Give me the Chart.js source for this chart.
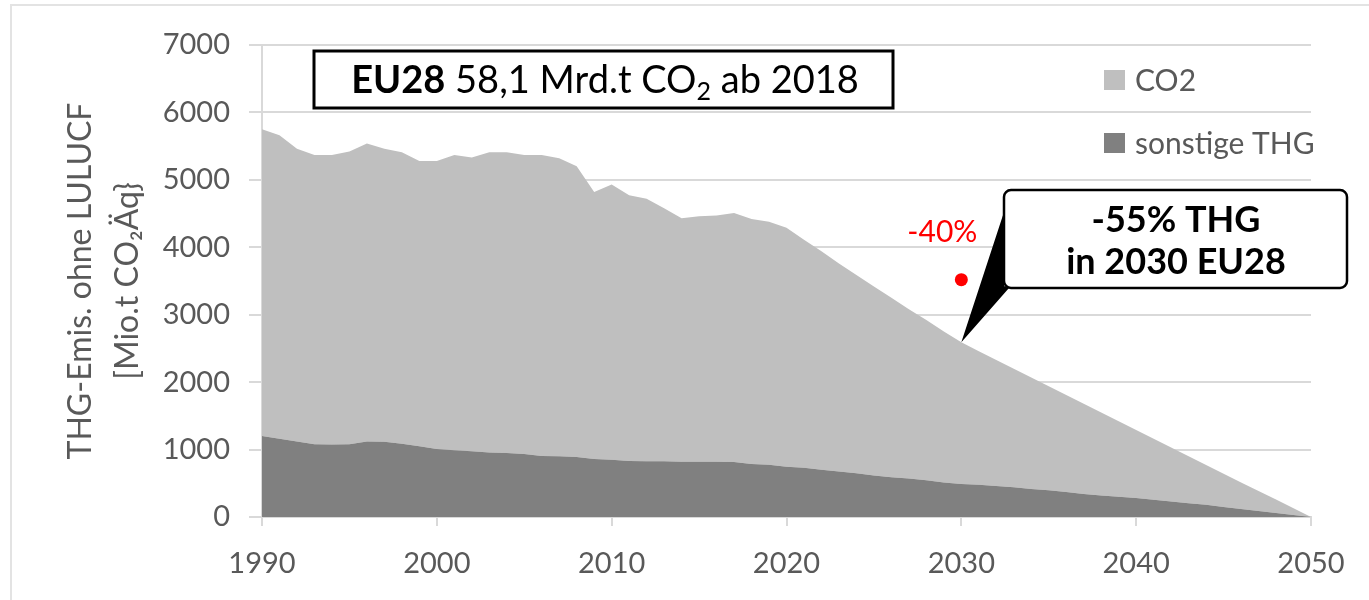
<!DOCTYPE html>
<html>
<head>
<meta charset="utf-8">
<script src="https://cdn.jsdelivr.net/npm/chart.js@4/dist/chart.umd.min.js"></script>
<style>
  html, body { margin: 0; padding: 0; background: #fff; overflow: hidden; }
  #wrap { position: relative; width: 1369px; height: 600px; }
  #frame { position: absolute; left: 10px; top: 4px; width: 2000px; height: 2000px; border: 2px solid #e3e3e3; }
  canvas { position: absolute; left: 0; top: 0; }
</style>
</head>
<body>
<div id="wrap">
  <div id="frame"></div>
  <canvas id="thgChart" width="1369" height="600"></canvas>
</div>
<script>
// Jahre 1990 .. 2050
const years = [
  1990, 1991, 1992, 1993, 1994, 1995, 1996, 1997, 1998, 1999,
  2000, 2001, 2002, 2003, 2004, 2005, 2006, 2007, 2008, 2009,
  2010, 2011, 2012, 2013, 2014, 2015, 2016, 2017, 2018, 2019,
  2020, 2021, 2022, 2023, 2024, 2025, 2026, 2027, 2028, 2029,
  2030, 2031, 2032, 2033, 2034, 2035, 2036, 2037, 2038, 2039,
  2040, 2041, 2042, 2043, 2044, 2045, 2046, 2047, 2048, 2049,
  2050
];

// sonstige THG (unten), Mio.t CO2Äq
const sonstigeTHG = [
  1200, 1160, 1120, 1080, 1075, 1080, 1120, 1115, 1085, 1050,
  1010, 990, 975, 955, 950, 935, 905, 900, 890, 860,
  850, 830, 825, 825, 820, 820, 820, 815, 785, 775,
  745, 730, 700, 675, 650, 615, 590, 570, 545, 510,
  490, 480, 460, 440, 415, 395, 370, 340, 320, 300,
  280, 255, 230, 205, 180, 150, 120, 90, 60, 30,
  0
];

// CO2 (gestapelt oben drauf)
const co2 = [
  4550, 4500, 4340, 4290, 4295, 4340, 4420, 4345, 4325, 4230,
  4270, 4380, 4355, 4455, 4460, 4435, 4465, 4420, 4310, 3960,
  4080, 3940, 3895, 3755, 3610, 3640, 3650, 3695, 3635, 3605,
  3545, 3380, 3240, 3085, 2940, 2805, 2660, 2510, 2375, 2240,
  2100, 1980, 1870, 1760, 1655, 1545, 1440, 1340, 1230, 1120,
  1010, 905, 800, 695, 590, 490, 390, 295, 200, 100,
  0
];

// -40% Ziel als Punkt
const zielJahr = [2030];
const zielWert = [3520];
const zielText = '-40%';

const titelFett = 'EU28';
const titelText = ' 58,1 Mrd.t CO';
const titelRest = ' ab 2018';
const calloutZeilen = ['-55% THG', 'in 2030 EU28'];
const calloutJahr = 2030;

const yTicks = [0, 1000, 2000, 3000, 4000, 5000, 6000, 7000];
const xTicks = [1990, 2000, 2010, 2020, 2030, 2040, 2050];

const FONT = 'Lato, "Open Sans", sans-serif';
const GRAU = '#595959';

const extras = {
  id: 'extras',
  afterDraw(chart) {
    const ctx = chart.ctx;
    const x = chart.scales.x, y = chart.scales.y;
    ctx.save();

    // Titelbox
    ctx.fillStyle = '#fff';
    ctx.fillRect(314, 51, 579, 57);
    ctx.lineWidth = 3;
    ctx.strokeStyle = '#000';
    ctx.strokeRect(314, 51, 579, 57);
    ctx.fillStyle = '#000';
    ctx.textBaseline = 'alphabetic';
    ctx.font = 'bold 38px ' + FONT;
    const w1 = ctx.measureText(titelFett).width;
    ctx.font = '38px ' + FONT;
    const w2 = ctx.measureText(titelText).width;
    const w4 = ctx.measureText(titelRest).width;
    ctx.font = '25px ' + FONT;
    const w3 = ctx.measureText('2').width;
    let tx = 605 - (w1 + w2 + w3 + w4) / 2;
    const base = 93;
    ctx.font = 'bold 38px ' + FONT;
    ctx.fillText(titelFett, tx, base); tx += w1;
    ctx.font = '38px ' + FONT;
    ctx.fillText(titelText, tx, base); tx += w2;
    ctx.font = '25px ' + FONT;
    ctx.fillText('2', tx, base + 7); tx += w3;
    ctx.font = '38px ' + FONT;
    ctx.fillText(titelRest, tx, base);

    // Legende
    const leg = [
      { label: chart.data.datasets[1].label, color: chart.data.datasets[1].backgroundColor, cy: 80 },
      { label: chart.data.datasets[0].label, color: chart.data.datasets[0].backgroundColor, cy: 143 }
    ];
    ctx.font = '30px ' + FONT;
    ctx.textBaseline = 'middle';
    leg.forEach(l => {
      ctx.fillStyle = l.color;
      ctx.fillRect(1104, l.cy - 10, 21, 20);
      ctx.fillStyle = GRAU;
      ctx.fillText(l.label, 1135, l.cy + 1);
    });

    // -40% Beschriftung
    const px = x.getPixelForValue(zielJahr[0]);
    const py = y.getPixelForValue(zielWert[0]);
    ctx.fillStyle = '#ff0000';
    ctx.textAlign = 'center';
    ctx.font = '30px ' + FONT;
    ctx.fillText(zielText, px - 19, py - 47);

    // Callout mit Zeiger auf 2030
    const i = years.indexOf(calloutJahr);
    const tipX = x.getPixelForValue(calloutJahr);
    const tipY = y.getPixelForValue(sonstigeTHG[i] + co2[i]);
    const bx = 1004, by = 190, bw = 343, bh = 98, r = 7;
    ctx.beginPath();
    ctx.moveTo(bx + r, by);
    ctx.lineTo(bx + bw - r, by);
    ctx.arcTo(bx + bw, by, bx + bw, by + r, r);
    ctx.lineTo(bx + bw, by + bh - r);
    ctx.arcTo(bx + bw, by + bh, bx + bw - r, by + bh, r);
    ctx.lineTo(bx + r, by + bh);
    ctx.arcTo(bx, by + bh, bx, by + bh - r, r);
    ctx.lineTo(bx, by + r);
    ctx.arcTo(bx, by, bx + r, by, r);
    ctx.closePath();
    ctx.fillStyle = '#fff';
    ctx.fill();
    ctx.lineWidth = 2.5;
    ctx.strokeStyle = '#000';
    ctx.stroke();
    ctx.beginPath();
    ctx.moveTo(bx, by + 22);
    ctx.lineTo(tipX, tipY);
    ctx.lineTo(bx + 5, by + bh);
    ctx.lineTo(bx, by + bh - 2);
    ctx.closePath();
    ctx.fillStyle = '#000';
    ctx.fill();
    ctx.font = 'bold 36px ' + FONT;
    ctx.fillText(calloutZeilen[0], 1176, 220);
    ctx.fillText(calloutZeilen[1], 1176, 262);

    ctx.restore();
  }
};

const ctx = document.getElementById('thgChart').getContext('2d');

new Chart(ctx, {
  type: 'line',
  data: {
    datasets: [
      {
        label: 'sonstige THG',
        data: years.map((j, i) => ({ x: j, y: sonstigeTHG[i] })),
        backgroundColor: '#808080',
        borderWidth: 0,
        pointRadius: 0,
        fill: 'origin',
        stack: 'thg'
      },
      {
        label: 'CO2',
        data: years.map((j, i) => ({ x: j, y: co2[i] })),
        backgroundColor: '#bfbfbf',
        borderWidth: 0,
        pointRadius: 0,
        fill: '-1',
        stack: 'thg'
      },
      {
        label: 'Ziel -40%',
        data: zielJahr.map((j, i) => ({ x: j, y: zielWert[i] })),
        showLine: false,
        pointRadius: 6.5,
        pointBackgroundColor: '#ff0000',
        pointBorderWidth: 0,
        fill: false,
        stack: 'ziel'
      }
    ]
  },
  options: {
    responsive: false,
    animation: false,
    layout: { padding: { left: 0, right: 58, top: 45, bottom: 0 } },
    plugins: {
      legend: { display: false },
      tooltip: { enabled: false }
    },
    scales: {
      x: {
        type: 'linear',
        min: 1990,
        max: 2050,
        afterFit: s => { s.height = 83; },
        afterBuildTicks: s => { s.ticks = xTicks.map(v => ({ value: v })); },
        grid: { drawOnChartArea: false, drawTicks: true, tickLength: 9, color: '#d9d9d9', lineWidth: 2 },
        border: { display: true, color: '#d9d9d9', width: 2 },
        ticks: {
          padding: 20,
          color: GRAU,
          font: { family: FONT, size: 29 },
          maxRotation: 0,
          callback: v => String(v)
        }
      },
      y: {
        stacked: true,
        min: 0,
        max: 7000,
        afterFit: s => { s.width = 262; },
        afterBuildTicks: s => { s.ticks = yTicks.map(v => ({ value: v })); },
        grid: { color: '#d9d9d9', lineWidth: 2, drawTicks: true, tickLength: 13 },
        border: { display: true, color: '#d9d9d9', width: 2 },
        ticks: {
          padding: 19,
          color: GRAU,
          font: { family: FONT, size: 29 },
          callback: v => String(v)
        },
        title: {
          display: true,
          text: ['THG-Emis. ohne LULUCF', '[Mio.t CO\u2082\u00C4q}'],
          color: GRAU,
          font: { family: FONT, size: 32, lineHeight: 1.47 },
          padding: { top: 57, bottom: 0 }
        }
      }
    }
  },
  plugins: [extras]
});
</script>
</body>
</html>
